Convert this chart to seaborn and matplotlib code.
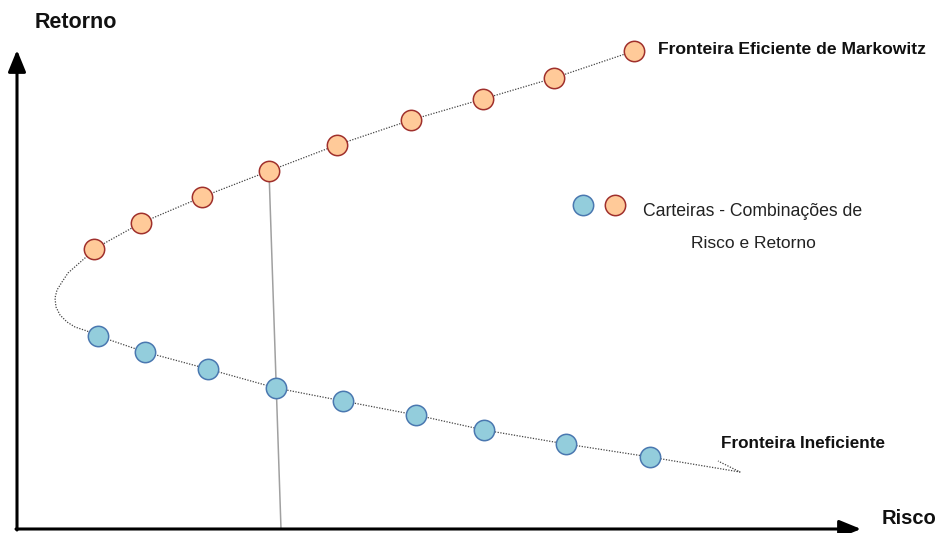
import matplotlib
matplotlib.use("Agg")
import matplotlib.pyplot as plt
import seaborn as sns
import pandas as pd

# ---- data (risk to the right, return upward) ----
H = 533
eff_risk = [94, 141, 202, 269, 337, 411, 483, 554, 634]
eff_ret_px = [249, 223, 197, 171, 145, 120, 99, 78, 51]
ineff_risk = [98, 145, 208, 276, 343, 416, 484, 566, 650]
ineff_ret_px = [336, 352, 369, 388, 401, 415, 430, 444, 457]

curve_risk = [634, 554, 483, 411, 337, 269, 202, 141, 94, 85, 77, 68, 62, 57, 55, 56,
              60, 67, 75, 87, 98, 145, 208, 276, 343, 416, 484, 566, 650, 740, 718]
curve_ret_px = [51, 78, 99, 120, 145, 171, 197, 223, 249, 258, 265, 273, 282, 290, 298,
                307, 315, 322, 327, 331, 336, 352, 369, 388, 401, 415, 430, 444, 457,
                472, 461]

vline_risk = [269, 281]
vline_ret_px = [171, 529]

eff_ret = [H - v for v in eff_ret_px]
ineff_ret = [H - v for v in ineff_ret_px]
curve_ret = [H - v for v in curve_ret_px]
vline_ret = [H - v for v in vline_ret_px]

sns.set_theme(style="white")
plt.rcParams['font.family'] = ['Liberation Sans', 'DejaVu Sans']

fig = plt.figure(figsize=(9.44, 5.33), dpi=100)
ax = fig.add_axes([0, 0, 1, 1])
ax.set_xlim(0, 944)
ax.set_ylim(0, 533)
ax.axis('off')

curve = pd.DataFrame({"risco": curve_risk, "retorno": curve_ret})
sns.lineplot(data=curve, x="risco", y="retorno", sort=False, estimator=None, ax=ax,
             color="#444444", linewidth=0.9, linestyle=(0, (1, 1.2)), zorder=1)

vl = pd.DataFrame({"risco": vline_risk, "retorno": vline_ret})
sns.lineplot(data=vl, x="risco", y="retorno", sort=False, estimator=None, ax=ax,
             color="#a0a0a0", linewidth=1.1, zorder=1)

MS = 215
eff = pd.DataFrame({"risco": eff_risk, "retorno": eff_ret})
ineff = pd.DataFrame({"risco": ineff_risk, "retorno": ineff_ret})
sns.scatterplot(data=eff, x="risco", y="retorno", ax=ax, s=MS, color="#FFCA99",
                edgecolor="#A0302C", linewidth=1.1, zorder=3)
sns.scatterplot(data=ineff, x="risco", y="retorno", ax=ax, s=MS, color="#93CDDC",
                edgecolor="#4A78B0", linewidth=1.1, zorder=3)

# legend markers
ax.scatter([583], [H - 205], s=MS, color="#93CDDC", edgecolor="#4A78B0", linewidth=1.1, zorder=3)
ax.scatter([615], [H - 205], s=MS, color="#FFCA99", edgecolor="#A0302C", linewidth=1.1, zorder=3)

# axes arrows
arrow = dict(arrowstyle="-|>,head_length=1.1,head_width=0.45", color="black", lw=2.2,
             shrinkA=0, shrinkB=0)
ax.annotate("", xy=(17, H - 50), xytext=(17, H - 530), arrowprops=arrow)
ax.annotate("", xy=(861, H - 529), xytext=(16, H - 529), arrowprops=arrow)

# texts
ax.text(35, H - 22, "Retorno", fontsize=15.5, fontweight="bold", va="center", ha="left",
        color="#111111")
ax.text(882, H - 518, "Risco", fontsize=14.5, fontweight="bold", va="center", ha="left",
        color="#111111")
ax.text(658, H - 49, "Fronteira Eficiente de Markowitz", fontsize=12.6, fontweight="bold",
        va="center", ha="left", color="#111111")
ax.text(721, H - 443, "Fronteira Ineficiente", fontsize=12.3, fontweight="bold",
        va="center", ha="left", color="#111111")
ax.text(643, H - 211, "Carteiras - Combinações de", fontsize=12.7, va="center", ha="left",
        color="#222222")
ax.text(691, H - 243, "Risco e Retorno", fontsize=12.5, va="center", ha="left",
        color="#222222")

fig.savefig("out.png", dpi=100)
